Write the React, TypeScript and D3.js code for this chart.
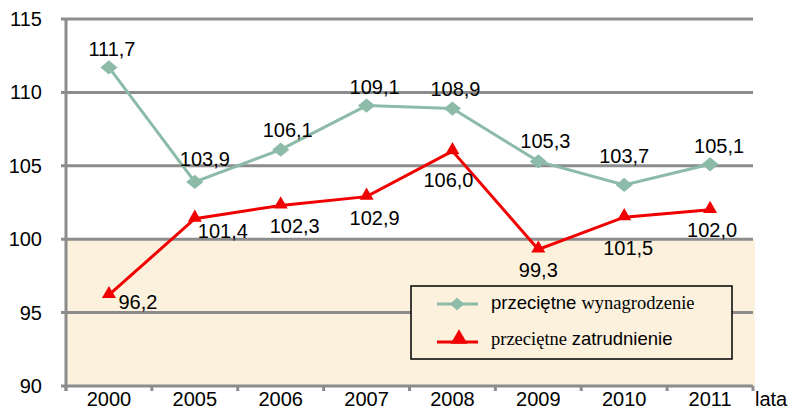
import React, { useEffect } from 'react';
import * as d3 from 'd3';

// chart data
const years = ['2000', '2005', '2006', '2007', '2008', '2009', '2010', '2011'];
const wages = [111.7, 103.9, 106.1, 109.1, 108.9, 105.3, 103.7, 105.1];
const employment = [96.2, 101.4, 102.3, 102.9, 106.0, 99.3, 101.5, 102.0];
const yTicks = [90, 95, 100, 105, 110, 115];

// label offsets (text centre / baseline relative to the point)
const wageLabelOffsets = [[3, -11], [10, -16], [7, -13], [8, -12], [3, -13], [7, -13], [0, -22], [9, -11]];
const empLabelOffsets = [[29, 14], [28, 19], [14, 28], [8, 28], [-4, 36], [0, 28], [4, 38], [2, 27]];

const W = 788;
const H = 410;
const left = 66;
const right = 753;
const top = 19;
const bottom = 386;

const GREEN = '#8dbba9';
const RED = '#f00000';
const GRID = '#8c8c8c';
const BEIGE = '#fbf1dc';
const FONT = '"Liberation Sans", Arial, sans-serif';
const SERIF = '"Liberation Serif", "Times New Roman", serif';

const fmt = (v: number) => v.toFixed(1).replace('.', ',');

export default function App() {
  useEffect(() => {
    document.body.style.margin = '0';
  }, []);

  const x = d3.scaleBand<string>().domain(years).range([left, right]).padding(0);
  const y = d3.scaleLinear().domain([90, 115]).range([bottom, top]);
  const cx = (yr: string) => (x(yr) as number) + x.bandwidth() / 2;

  const line = d3.line<number>()
    .x((_, i) => cx(years[i]))
    .y(d => y(d));

  // rotated square, slightly squashed like the original marker
  const diamond = d3.symbol().type(d3.symbolSquare).size(121)();
  const triangle = d3.symbol().type(d3.symbolTriangle).size(85)();

  const boundaries = d3.range(years.length + 1).map(i => left + i * x.bandwidth());

  return (
    <svg width={W} height={H} style={{ display: 'block', background: '#fff' }}>
      {/* shaded area under 100 */}
      <rect x={left} y={y(100)} width={right - left + 2} height={bottom - y(100)} fill={BEIGE} />

      {/* gridlines */}
      {yTicks.map(t => (
        <g key={t}>
          <line x1={left - 5} x2={right} y1={y(t)} y2={y(t)} stroke={GRID} strokeWidth={3} />
          <text x={42} y={y(t) + 7} textAnchor="end" fontFamily={FONT} fontSize={20} fill="#000">{t}</text>
        </g>
      ))}
      {/* y axis */}
      <line x1={left} x2={left} y1={top - 1} y2={bottom + 5} stroke={GRID} strokeWidth={3} />
      {/* x ticks */}
      {boundaries.map((b, i) => (
        <line key={i} x1={b} x2={b} y1={bottom} y2={bottom + 5} stroke={GRID} strokeWidth={3} />
      ))}
      {years.map(yr => (
        <text key={yr} x={cx(yr)} y={406} textAnchor="middle" fontFamily={FONT} fontSize={20} fill="#000">{yr}</text>
      ))}
      <text x={755} y={406} fontFamily={FONT} fontSize={20} fill="#000">lata</text>

      {/* wages series */}
      <path d={line(wages) as string} fill="none" stroke={GREEN} strokeWidth={3} />
      {wages.map((v, i) => (
        <path key={i} d={diamond as string}
          transform={`translate(${cx(years[i])},${y(v)}) scale(1.1,0.92) rotate(45)`} fill={GREEN} />
      ))}
      {wages.map((v, i) => (
        <text key={i} x={cx(years[i]) + wageLabelOffsets[i][0]} y={y(v) + wageLabelOffsets[i][1]}
          textAnchor="middle" fontFamily={FONT} fontSize={20} fill="#000">{fmt(v)}</text>
      ))}

      {/* employment series */}
      <path d={line(employment) as string} fill="none" stroke={RED} strokeWidth={3} />
      {employment.map((v, i) => (
        <path key={i} d={triangle as string} transform={`translate(${cx(years[i])},${y(v) - 1})`} fill={RED} />
      ))}
      {employment.map((v, i) => (
        <text key={i} x={cx(years[i]) + empLabelOffsets[i][0]} y={y(v) + empLabelOffsets[i][1]}
          textAnchor="middle" fontFamily={FONT} fontSize={20} fill="#000">{fmt(v)}</text>
      ))}

      {/* legend */}
      <g>
        <rect x={411} y={286} width={321} height={73} fill={BEIGE} stroke="#000" strokeWidth={1.5} />
        <line x1={437} x2={478} y1={304} y2={304} stroke={GREEN} strokeWidth={3} />
        <path d={diamond as string} transform="translate(457,304) scale(0.95,0.8) rotate(45)" fill={GREEN} />
        <text x={491} y={309} fontSize={18.5} fill="#000">
          <tspan fontFamily={FONT}>przeciętne </tspan>
          <tspan fontFamily={SERIF}>wynagrodzenie</tspan>
        </text>
        <line x1={437} x2={478} y1={342} y2={342} stroke={RED} strokeWidth={3} />
        <path d={triangle as string} transform="translate(459,339) scale(1.2)" fill={RED} />
        <text x={491} y={345} fontSize={18.5} fill="#000">
          <tspan fontFamily={SERIF}>przeciętne </tspan>
          <tspan fontFamily={FONT}>zatrudnienie</tspan>
        </text>
      </g>
    </svg>
  );
}
